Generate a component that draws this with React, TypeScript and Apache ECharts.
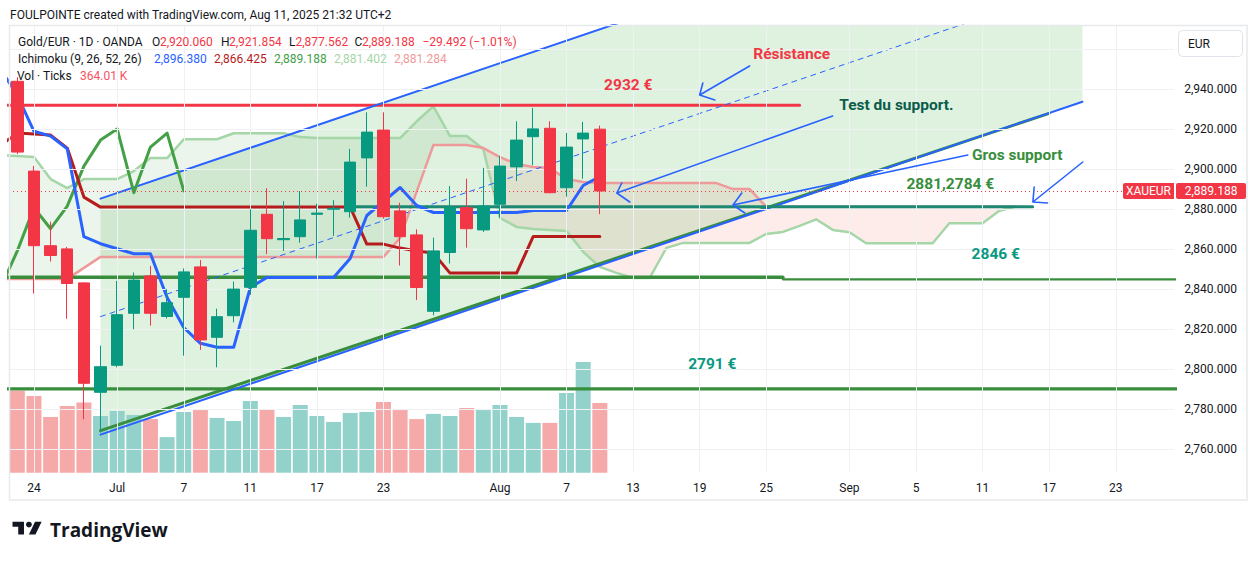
import React, { useEffect, useRef } from 'react';
import * as echarts from 'echarts';

const FONT = 'Roboto, "Noto Sans", sans-serif';

// ---------- categories (trading days, Jun 23 -> Sep 26 2025) ----------
const DATES = [
  '2025-06-23', '2025-06-24', '2025-06-25', '2025-06-26', '2025-06-27', '2025-06-30',
  '2025-07-01', '2025-07-02', '2025-07-03', '2025-07-04', '2025-07-07', '2025-07-08',
  '2025-07-09', '2025-07-10', '2025-07-11', '2025-07-14', '2025-07-15', '2025-07-16',
  '2025-07-17', '2025-07-18', '2025-07-21', '2025-07-22', '2025-07-23', '2025-07-24',
  '2025-07-25', '2025-07-28', '2025-07-29', '2025-07-30', '2025-07-31', '2025-08-01',
  '2025-08-04', '2025-08-05', '2025-08-06', '2025-08-07', '2025-08-08', '2025-08-11',
  '2025-08-12', '2025-08-13', '2025-08-14', '2025-08-15', '2025-08-18', '2025-08-19',
  '2025-08-20', '2025-08-21', '2025-08-22', '2025-08-25', '2025-08-26', '2025-08-27',
  '2025-08-28', '2025-08-29', '2025-09-01', '2025-09-02', '2025-09-03', '2025-09-04',
  '2025-09-05', '2025-09-08', '2025-09-09', '2025-09-10', '2025-09-11', '2025-09-12',
  '2025-09-15', '2025-09-16', '2025-09-17', '2025-09-18', '2025-09-19', '2025-09-22',
  '2025-09-23', '2025-09-24', '2025-09-25', '2025-09-26',
];

const TICK_LABELS: [number, string][] = [
  [1, '24'], [6, 'Jul'], [10, '7'], [14, '11'], [18, '17'], [22, '23'], [29, 'Aug'],
  [33, '7'], [37, '13'], [41, '19'], [45, '25'], [50, 'Sep'], [54, '5'], [58, '11'],
  [62, '17'], [66, '23'],
];

const PRICE_TICKS = [2760, 2780, 2800, 2820, 2840, 2860, 2880, 2900, 2920, 2940];
const GRID_PRICES = [2760, 2780, 2800, 2820, 2840, 2860, 2880, 2900, 2920, 2940, 2960];
const PRICE_MIN = 2748.3;
const PRICE_MAX = 2972.15;

// ---------- OHLC ----------
const OPEN = [
  2944, 2899.1, 2861.8, 2860.2, 2843.2, 2788.5, 2802, 2828, 2846.7, 2826.4, 2836, 2851.2,
  2816, 2826.8, 2841, 2877.5, 2864.8, 2866.3, 2877.5, 2880, 2878.8, 2905.7, 2919.6, 2879.2,
  2867.2, 2829, 2858.4, 2880.8, 2869.7, 2882.5, 2901.2, 2916.3, 2920.5, 2890.8, 2915.2, 2920.06,
];
const CLOSE = [
  2908.6, 2861.8, 2856.9, 2842.9, 2793.0, 2801.3, 2827.3, 2844.6, 2828, 2833.3, 2848.7, 2814.7,
  2826.3, 2840.1, 2869.5, 2865.3, 2865.4, 2874.7, 2878.1, 2880.5, 2903.6, 2918.6, 2876.3, 2866.3,
  2840.9, 2859.2, 2880.8, 2870.3, 2881.6, 2901.6, 2914.6, 2920.2, 2888.3, 2911.1, 2918.1, 2889.188,
];
const LOW = [
  2907.6, 2837.9, 2853.9, 2825.3, 2775, 2768.4, 2801, 2820, 2821.8, 2825.4, 2806.8, 2809.7,
  2801, 2823.5, 2837.3, 2857.6, 2859.2, 2863.3, 2855.4, 2866.7, 2875.8, 2891.3, 2875.3, 2851.9,
  2834.6, 2827, 2852.9, 2860.8, 2868.7, 2875.8, 2894.1, 2902.1, 2888, 2886.3, 2895.3, 2877.562,
];
const HIGH = [
  2946, 2901.7, 2873.8, 2861.2, 2843.5, 2811.8, 2844.2, 2848.4, 2851.7, 2840.1, 2850.4, 2854.6,
  2830.3, 2843.9, 2880, 2890.5, 2884.1, 2889.1, 2882.8, 2884.6, 2910.2, 2928.5, 2928.5, 2883.3,
  2870, 2865.8, 2891.6, 2895.3, 2900.7, 2906.6, 2924, 2930.7, 2924, 2918.2, 2923.7, 2921.854,
];
// Volume in K ticks
const VOLUME = [
  428, 400, 291, 348, 366, 296, 322, 301, 280, 186, 317, 327, 286, 270, 374, 333, 291, 354,
  296, 265, 312, 317, 369, 327, 280, 307, 296, 338, 327, 354, 291, 260, 260, 416, 578, 364.01,
];
const LAST_CLOSE = 2889.188;

// ---------- Ichimoku (first value sits at index -1) ----------
const CONVERSION = [
  2950, 2937, 2919, 2916.6, 2910.2, 2866.3, 2862.8, 2860.3, 2857.8, 2857.8, 2835.9, 2820.9,
  2813, 2811, 2811, 2840.9, 2845.9, 2845.9, 2845.9, 2845.9, 2845.9, 2855.4, 2876.9, 2883.9,
  2890.9, 2881.9, 2878.4, 2878.4, 2878.4, 2878.4, 2878.4, 2878.4, 2879.4, 2879.4, 2879.4,
  2891.9, 2896.38,
];
const BASE = [
  2912, 2918.1, 2917.6, 2917.1, 2910.6, 2886.1,
  2881.1, 2881.1, 2881.1, 2881.1, 2881.1, 2881.1, 2881.1, 2881.1, 2881.1, 2881.1, 2881.1,
  2881.1, 2881.1, 2881.1, 2881.1, 2881.1,
  2862.6, 2862.6, 2860.6, 2859.1, 2858.1,
  2848.1, 2848.1, 2848.1, 2848.1, 2848.1,
  2866.425, 2866.425, 2866.425, 2866.425, 2866.425,
];
const LAGGING = [
  2840.9, 2859.2, 2880.8, 2870.3, 2881.6, 2901.6, 2914.6, 2920.2, 2888.3, 2911.1, 2918.1, 2889.188,
];
const SPAN_A = [
  2907, 2906.6, 2906.1, 2895.1, 2890.6, 2895.1, 2895.1, 2895.1, 2899.1, 2905.6, 2905.6,
  2915, 2915, 2915, 2918, 2918, 2918, 2918, 2916.1, 2915.6, 2915.6, 2915.6, 2915.6, 2915.6,
  2915.6, 2924, 2931.5, 2916.6, 2916.6, 2910.1, 2875.7, 2871.2, 2870.2, 2869.7, 2869.2,
  2858.7, 2851.2, 2848.2, 2845.7, 2845.7, 2860.7, 2863.2, 2863.2, 2863.2, 2863.2, 2863.2,
  2867.7, 2868.7, 2871.7, 2875, 2869.7, 2868.5, 2863, 2863, 2863, 2863, 2863, 2873, 2873,
  2873, 2879.3, 2881.402,
];
const SPAN_B = [
  2845.2, 2845.2, 2845.2, 2845.2, 2845.2, 2850.7,
  2856.2, 2856.2, 2856.2, 2856.2, 2856.2, 2856.2, 2856.2, 2856.2, 2856.2, 2856.2, 2856.2,
  2856.2, 2856.2, 2856.2, 2856.2, 2856.2, 2856.2, 2856.2,
  2865.7, 2889, 2912.1, 2912.1, 2912.1, 2910.6, 2906.1, 2902.6, 2901.1, 2900.6, 2895.1,
  2893.6, 2893.1, 2893.1, 2893.1, 2893.1, 2893.1, 2893.1, 2893.1, 2893.1, 2890.1, 2890.1,
  2881.284, 2881.284, 2881.284, 2881.284, 2881.284, 2881.284, 2881.284, 2881.284,
  2881.284, 2881.284, 2881.284, 2881.284, 2881.284, 2881.284, 2881.284, 2881.284,
];

// ---------- drawings (bar index, price) ----------
const CHANNEL_LOWER: [number, number][] = [[5, 2767.35], [64, 2933.8]];
const CHANNEL_UPPER: [number, number][] = [[5, 2885.35], [64, 3051.8]];
const CHANNEL_MID: [number, number][] = [[5, 2826.35], [64, 2992.8]];
const GREEN_TREND: [number, number][] = [[5, 2769.3], [62, 2928]];
const RESISTANCE_LINE: [number, number][] = [[-1, 2932], [47, 2932]];
const SUPPORT_LINE: [number, number][] = [[20, 2881.28], [61, 2881.28]];
const SUPPORT_2846_THICK: [number, number][] = [[-1, 2846], [46, 2846]];
const SUPPORT_2846_THIN: [number, number][] = [[46, 2845], [75, 2845]];
const SUPPORT_2791: [number, number][] = [[-1, 2790.2], [75, 2790.2]];

// tail, head, prong, head, prong
const ARROWS: [number, number][][] = [
  [[44.0, 2951.65], [41.0, 2937.15], [41.19, 2943.15], [41.0, 2937.15], [41.91, 2934.65]],
  [[48.99, 2926.65], [36.02, 2888.15], [36.32, 2893.15], [36.02, 2888.15], [36.8, 2883.65]],
  [[57.11, 2907.15], [43.0, 2882.15], [43.53, 2888.15], [43.0, 2882.15], [43.71, 2878.15]],
  [[64.02, 2903.65], [61.02, 2883.65], [61.1, 2891.15], [61.02, 2883.65], [61.9, 2883.15]],
];

const NOTES = [
  { text: 'Résistance', x: 46.53, y: 2957.9, color: '#F23645' },
  { text: '2932 €', x: 36.71, y: 2942.15, color: '#F23645' },
  { text: 'Test du support.', x: 52.82, y: 2932.15, color: '#0B5C4B' },
  { text: 'Gros support', x: 60.08, y: 2907.15, color: '#388E3C' },
  { text: '2881,2784 €', x: 56.06, y: 2892.9, color: '#388E3C' },
  { text: '2846 €', x: 58.79, y: 2857.65, color: '#089981' },
  { text: '2791 €', x: 41.76, y: 2802.65, color: '#089981' },
];

echarts.graphic.registerShape(
  'tvlogo',
  echarts.graphic.extendPath('M14 22H7V11H0V4h14v18zM28 22h-8l7.5-18h8L28 22z', {})
);

const withIndex = (arr: number[], first: number) => arr.map((v, k) => [k + first, v]);

// cloud polygons: runs of same sign between Span A and Span B
function buildCloud() {
  const polys: { up: boolean; pts: number[][] }[] = [];
  let top: number[][] = [];
  let bot: number[][] = [];
  let sign: boolean | null = null;
  for (let k = 0; k < SPAN_A.length; k++) {
    const x = k - 1;
    const a = SPAN_A[k];
    const b = SPAN_B[k];
    const s = a >= b;
    if (sign === null) {
      sign = s;
    } else if (s !== sign) {
      const a0 = SPAN_A[k - 1];
      const b0 = SPAN_B[k - 1];
      const d0 = a0 - b0;
      const d1 = a - b;
      const t = d0 / (d0 - d1);
      const xc = x - 1 + t;
      const yc = a0 + t * (a - a0);
      top.push([xc, yc]);
      bot.push([xc, yc]);
      polys.push({ up: sign, pts: [...top, ...bot.reverse()] });
      top = [[xc, yc]];
      bot = [[xc, yc]];
      sign = s;
    }
    top.push([x, a]);
    bot.push([x, b]);
  }
  polys.push({ up: !!sign, pts: [...top, ...bot.reverse()] });
  return polys;
}
const CLOUD = buildCloud();

const fmtPrice = (v: number) => {
  const [i, d] = v.toFixed(3).split('.');
  return i.replace(/\B(?=(\d{3})+(?!\d))/g, ',') + '.' + d;
};

const TICK_MAP = new Map(TICK_LABELS);

function lineSeries(data: number[][], color: string, width: number, z: number, type: any = 'solid') {
  return {
    type: 'line',
    xAxisIndex: 1,
    yAxisIndex: 0,
    data,
    symbol: 'none',
    showSymbol: false,
    silent: true,
    z,
    lineStyle: { color, width, type, cap: 'round', join: 'round' },
    emphasis: { disabled: true },
  };
}

function buildOption() {
  return {
    animation: false,
    backgroundColor: '#ffffff',
    grid: [
      { left: 9, top: 25, width: 1165, height: 447.7, containLabel: false, outerBoundsMode: 'none' },
      { left: 9, top: 322.7, width: 1165, height: 150, containLabel: false, outerBoundsMode: 'none' },
    ],
    xAxis: [
      {
        gridIndex: 0,
        type: 'category',
        data: DATES,
        boundaryGap: true,
        axisLine: { show: false },
        axisTick: { show: false },
        splitLine: { show: false },
        axisLabel: {
          interval: (i: number) => TICK_MAP.has(i),
          formatter: (_v: string, i: number) => TICK_MAP.get(i) ?? '',
          color: '#131722',
          fontSize: 12,
          fontFamily: FONT,
          margin: 9,
        },
      },
      { gridIndex: 0, type: 'value', min: -0.5, max: 69.5, show: false },
      { gridIndex: 1, type: 'category', data: DATES, show: false, boundaryGap: true },
    ],
    yAxis: [
      {
        gridIndex: 0,
        type: 'value',
        position: 'right',
        min: PRICE_MIN,
        max: PRICE_MAX,
        splitLine: { show: false },
        axisLine: { show: false },
        axisTick: { show: false },
        axisLabel: {
          customValues: PRICE_TICKS,
          formatter: (v: number) => fmtPrice(v),
          color: '#131722',
          fontSize: 12,
          fontFamily: FONT,
          margin: 63,
          align: 'right',
        },
      },
      { gridIndex: 1, type: 'value', min: 0, max: 783, show: false },
    ],
    series: [
      {
        type: 'line',
        xAxisIndex: 1,
        yAxisIndex: 0,
        data: [[-10, 2800]],
        symbol: 'none',
        lineStyle: { opacity: 0 },
        silent: true,
        z: 0,
        markLine: {
          silent: true,
          symbol: ['none', 'none'],
          label: { show: false },
          emphasis: { disabled: true },
          lineStyle: { color: '#F0F1F4', width: 1, type: 'solid' },
          data: [
            ...GRID_PRICES.map((p) => ({ yAxis: p })),
            ...TICK_LABELS.map(([i]) => ({ xAxis: i })),
          ],
        },
      },
      {
        type: 'bar',
        xAxisIndex: 2,
        yAxisIndex: 1,
        barWidth: 15,
        silent: true,
        z: 1,
        data: VOLUME.map((v, i) => ({
          value: v,
          itemStyle: { color: CLOSE[i] >= OPEN[i] ? '#93D2CB' : '#F6A9A9' },
        })),
      },
      {
        type: 'custom',
        xAxisIndex: 1,
        yAxisIndex: 0,
        silent: true,
        z: 1,
        data: [[0, 2850]],
        renderItem: (params: any, api: any) => {
          const cs = params.coordSys;
          return {
            type: 'group',
            clipPath: { type: 'rect', shape: { x: cs.x, y: cs.y, width: cs.width, height: cs.height } },
            children: CLOUD.map((p) => ({
              type: 'polygon',
              shape: { points: p.pts.map((pt) => api.coord(pt)) },
              style: { fill: p.up ? 'rgba(67,160,71,0.10)' : 'rgba(244,67,54,0.10)' },
            })),
          };
        },
      },
      {
        type: 'custom',
        xAxisIndex: 1,
        yAxisIndex: 0,
        silent: true,
        z: 1,
        data: [[0, 2850]],
        renderItem: (params: any, api: any) => {
          const cs = params.coordSys;
          const pts = [CHANNEL_LOWER[0], CHANNEL_LOWER[1], CHANNEL_UPPER[1], CHANNEL_UPPER[0]];
          return {
            type: 'polygon',
            clipPath: { type: 'rect', shape: { x: cs.x, y: cs.y, width: cs.width, height: cs.height } },
            shape: { points: pts.map((pt) => api.coord(pt)) },
            style: { fill: 'rgba(76,175,80,0.18)' },
          };
        },
      },
      lineSeries(withIndex(SPAN_A, -1), '#A5D6A7', 2.5, 2),
      lineSeries(withIndex(SPAN_B, -1), '#EF9A9A', 2.5, 2),
      lineSeries(SUPPORT_2846_THIN, '#388E3C', 2.2, 3),
      lineSeries(SUPPORT_2846_THICK, '#388E3C', 3.5, 3),
      lineSeries(SUPPORT_2791, '#388E3C', 3.2, 3),
      lineSeries(RESISTANCE_LINE, '#F23645', 3, 3),
      lineSeries(GREEN_TREND, '#388E3C', 3, 3),
      lineSeries(CHANNEL_LOWER, '#2962FF', 2, 3),
      lineSeries(CHANNEL_UPPER, '#2962FF', 2, 3),
      lineSeries(CHANNEL_MID, '#2962FF', 1, 3, [5, 5]),
      lineSeries(SUPPORT_LINE, '#1E8973', 3.2, 3),
      lineSeries(withIndex(LAGGING, -1), '#43A047', 3, 4),
      lineSeries(withIndex(BASE, -1), '#B71C1C', 3, 4),
      lineSeries(withIndex(CONVERSION, -1), '#2962FF', 3, 4),
      {
        type: 'candlestick',
        xAxisIndex: 0,
        yAxisIndex: 0,
        barWidth: 12,
        silent: true,
        z: 5,
        data: OPEN.map((o, i) => [o, CLOSE[i], LOW[i], HIGH[i]]),
        itemStyle: {
          color: '#089981',
          color0: '#F23645',
          borderColor: '#089981',
          borderColor0: '#F23645',
          borderWidth: 1,
        },
        markLine: {
          silent: true,
          symbol: ['none', 'none'],
          label: { show: false },
          emphasis: { disabled: true },
          lineStyle: { color: '#F23645', width: 1, type: [1, 3] },
          data: [{ yAxis: LAST_CLOSE }],
        },
      },
      ...ARROWS.map((a) => lineSeries(a, '#2962FF', 1.6, 6)),
    ],
  };
}

function txt(x: number, y: number, text: string, fill = '#131722', size = 12, weight: any = 'normal', align = 'left', family = FONT) {
  return {
    type: 'text',
    x,
    y,
    silent: true,
    z: 60,
    style: { text, fill, fontSize: size, fontWeight: weight, fontFamily: family, align, verticalAlign: 'middle' },
  };
}

function buildGraphics(yLast: number, toPx: (p: number[]) => number[]) {
  const RED = '#F23645';
  return [
    {
      type: 'rect',
      silent: true,
      z: 55,
      shape: { x: 9.5, y: 25.5, width: 1237.5, height: 474.5 },
      style: { fill: 'none', stroke: '#E8E9EC', lineWidth: 1.5 },
    },
    txt(10, 15, 'FOULPOINTE created with TradingView.com, Aug 11, 2025 21:32 UTC+2', '#131722', 12),
    txt(18, 42, 'Gold/EUR · 1D · OANDA'),
    txt(152, 42, 'O'),
    txt(160, 42, '2,920.060', RED),
    txt(221, 42, 'H'),
    txt(229, 42, '2,921.854', RED),
    txt(289, 42, 'L'),
    txt(295.5, 42, '2,877.562', RED),
    txt(354.5, 42, 'C'),
    txt(362, 42, '2,889.188', RED),
    txt(422.5, 42, '\u221229.492 (\u22121.01%)', RED),
    txt(18, 59, 'Ichimoku (9, 26, 52, 26)'),
    txt(154, 59, '2,896.380', '#2962FF'),
    txt(214, 59, '2,866.425', '#B71C1C'),
    txt(274, 59, '2,889.188', '#43A047'),
    txt(334, 59, '2,881.402', '#A5D6A7'),
    txt(394, 59, '2,881.284', '#EF9A9A'),
    txt(17, 76, 'Vol · Ticks'),
    txt(80, 76, '364.01 K', '#F7525F'),
    ...NOTES.map((n) => {
      const [px, py] = toPx([n.x, n.y]);
      return txt(px, py, n.text, n.color, 15.5, 'bold', 'center');
    }),
    {
      type: 'rect',
      silent: true,
      z: 60,
      shape: { x: 1178.5, y: 30.5, width: 64, height: 26, r: 4 },
      style: { fill: '#ffffff', stroke: '#E0E3EB', lineWidth: 1 },
    },
    txt(1188, 44, 'EUR', '#131722', 12),
    {
      type: 'rect',
      silent: true,
      z: 60,
      shape: { x: 1123, y: yLast - 8, width: 51, height: 16, r: [2, 0, 0, 2] },
      style: { fill: RED },
    },
    txt(1148.5, yLast + 0.5, 'XAUEUR', '#ffffff', 12, 'normal', 'center'),
    {
      type: 'rect',
      silent: true,
      z: 60,
      shape: { x: 1176, y: yLast - 8, width: 70, height: 16, r: 2 },
      style: { fill: RED },
    },
    txt(1211, yLast + 0.5, '2,889.188', '#ffffff', 12, 'normal', 'center'),
    {
      type: 'tvlogo',
      silent: true,
      z: 60,
      x: 12.5,
      y: 519,
      scaleX: 0.82,
      scaleY: 0.7,
      shape: {},
      style: { fill: '#131722' },
    },
    {
      type: 'circle',
      silent: true,
      z: 60,
      shape: { cx: 12.5 + 20 * 0.82, cy: 519 + 8 * 0.7, r: 2.9 },
      style: { fill: '#131722' },
    },
    txt(50, 530, 'TradingView', '#131722', 19, 'bold', 'left', '"Open Sans", Roboto, sans-serif'),
  ];
}

export default function App() {
  const ref = useRef<HTMLDivElement>(null);
  useEffect(() => {
    if (!ref.current) return;
    const chart = echarts.init(ref.current, null, { renderer: 'svg' });
    chart.setOption(buildOption() as any);
    const yLast = chart.convertToPixel({ yAxisIndex: 0 } as any, LAST_CLOSE) as unknown as number;
    const toPx = (p: number[]) =>
      chart.convertToPixel({ xAxisIndex: 1, yAxisIndex: 0 } as any, p) as unknown as number[];
    chart.setOption({ graphic: buildGraphics(yLast, toPx) } as any);
    return () => chart.dispose();
  }, []);
  return (
    <div
      ref={ref}
      style={{ position: 'fixed', left: 0, top: 0, width: 1257, height: 561, background: '#ffffff' }}
    />
  );
}
